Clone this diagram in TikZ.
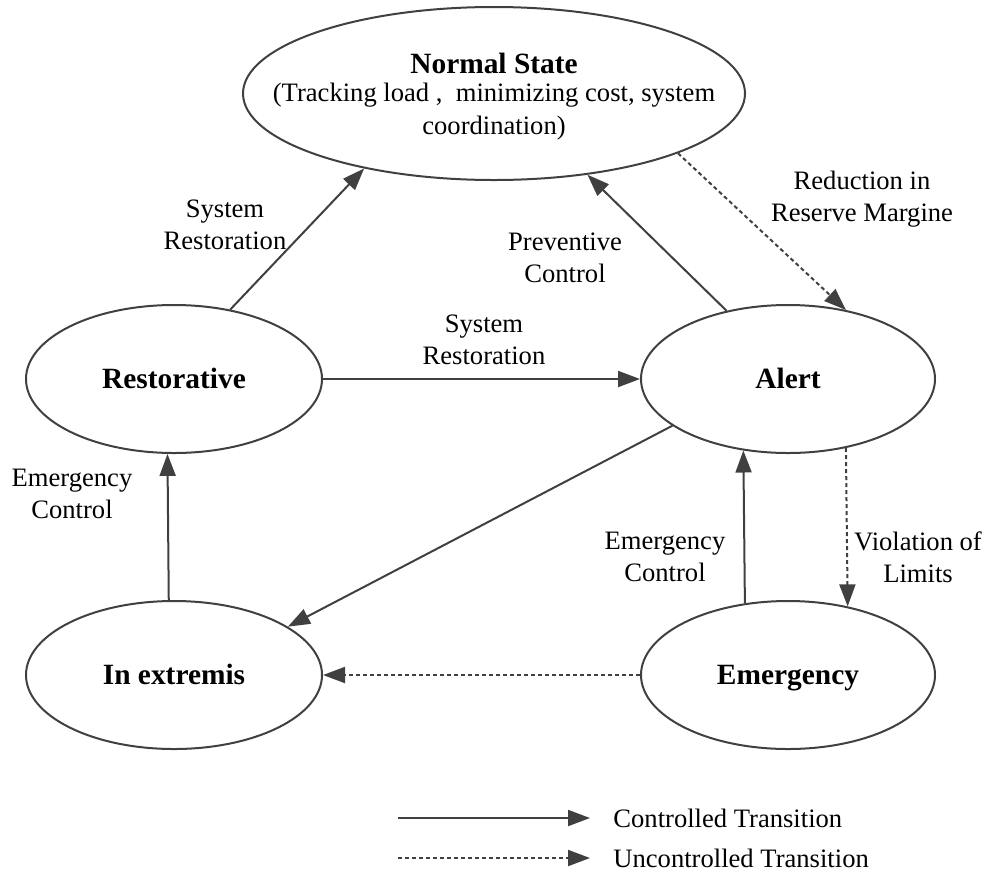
\documentclass[tikz,border=0pt]{standalone}
\usepackage{fontspec}
\setmainfont{Liberation Serif}
\usetikzlibrary{shapes.geometric,arrows.meta}
\definecolor{linegray}{HTML}{404040}
\begin{document}
\begin{tikzpicture}[x=0.5pt,y=-0.5pt,
  state/.style={ellipse,draw=linegray,line width=1pt,inner sep=0pt,
    text height=9.7pt,text depth=0pt,
    font=\fontsize{14.7}{16}\selectfont\bfseries,align=center},
  lbl/.style={font=\fontsize{13.3}{15.8}\selectfont,align=center,inner sep=0pt},
  ctrl/.style={draw=linegray,line width=1pt,-{Triangle[length=11pt,width=8pt]},color=linegray},
  unctrl/.style={draw=linegray,line width=1pt,dash pattern=on 2pt off 1.5pt,
    -{Triangle[length=11pt,width=8pt]},color=linegray}]
\useasboundingbox (0,0) rectangle (988,873);

% states
\node[state,minimum width=251pt,minimum height=86.5pt] (normal) at (494,93.5) {};
\node[font=\fontsize{14.7}{16}\selectfont\bfseries,inner sep=0pt] (normaltitle) at (494,63) {Normal State};
\node[lbl] (normalsub) at (494,111.5) {(Tracking load ,\ \ minimizing cost, system\\[0.7pt] coordination)};
\node[state,minimum width=148pt,minimum height=74pt] (rest) at (174,379) {Restorative};
\node[state,minimum width=147pt,minimum height=74pt] (alert) at (788,379) {Alert};
\node[state,minimum width=148pt,minimum height=74pt] (extr) at (174,675) {In extremis};
\node[state,minimum width=147pt,minimum height=74pt] (emer) at (788,675) {Emergency};

% transitions
\draw[ctrl] (rest.51) -- (normal.210);
\draw[ctrl] (alert.132.2) -- (normal.319.2);
\draw[unctrl] (normal.342.1) -- (alert.50.7);
\draw[ctrl] (rest.east) -- (alert.west);
\draw[ctrl] (alert.202.7) -- (extr.23.8);
\draw[ctrl] (emer.121.3) -- (alert.238.7);
\draw[unctrl] (alert.310.5) -- (emer.49.5);
\draw[ctrl] (extr.94.6) -- (rest.265.4);
\draw[unctrl] (emer.west) -- (extr.east);

% transition labels
\node[lbl] (l1) at (225,225) {System\\Restoration};
\node[lbl] (l2) at (565,258) {Preventive\\Control};
\node[lbl] (l3) at (862,199) {Reduction in\\Reserve Margine};
\node[lbl] (l4) at (484,340) {System\\Restoration};
\node[lbl] (l5) at (72,494) {Emergency\\Control};
\node[lbl] (l6) at (665,557) {Emergency\\Control};
\node[lbl] (l7) at (918,557) {Violation of\\Limits};

% legend
\coordinate (c1) at (398,818);
\coordinate (c2) at (590,818);
\coordinate (u1) at (398,858);
\coordinate (u2) at (590,858);
\draw[ctrl] (c1) -- (c2);
\draw[unctrl] (u1) -- (u2);
\node[lbl,anchor=west] (lc) at (613,818) {Controlled Transition};
\node[lbl,anchor=west] (lu) at (613,858) {Uncontrolled Transition};
\end{tikzpicture}
\end{document}
